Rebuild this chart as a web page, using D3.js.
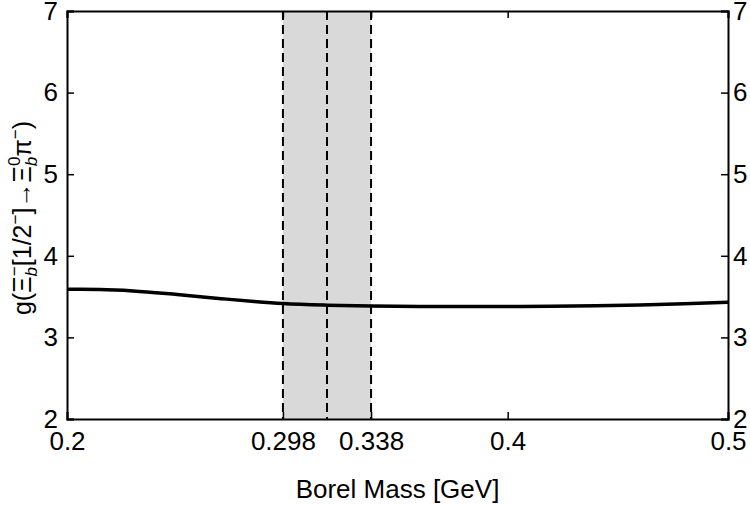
<!DOCTYPE html>
<html>
<head>
<meta charset="utf-8">
<script src="https://cdn.jsdelivr.net/npm/d3@7"></script>
<style>
  body { margin: 0; background: #fff; }
  text { font-family: "Liberation Sans", Arial, sans-serif; fill: #000; }
</style>
</head>
<body>
<div id="chart"></div>
<script>
// values
var borel = [0.20, 0.215, 0.23, 0.25, 0.27, 0.285, 0.298, 0.318, 0.338, 0.36, 0.38, 0.40, 0.42, 0.44, 0.46, 0.48, 0.50];
var coupling = [3.59, 3.587, 3.57, 3.525, 3.475, 3.44, 3.415, 3.395, 3.385, 3.38, 3.378, 3.378, 3.381, 3.388, 3.398, 3.412, 3.43];
var band = [0.298, 0.338];
var bandCenter = [0.318];
var xTicks = [0.2, 0.298, 0.338, 0.4, 0.5];
var xTickLabels = ["0.2", "0.298", "0.338", "0.4", "0.5"];
var yTicks = [2, 3, 4, 5, 6, 7];

var width = 750, height = 505;
var margin = {top: 11, right: 22, bottom: 86, left: 67};
var w = width - margin.left - margin.right,
    h = height - margin.top - margin.bottom;

var svg = d3.select("#chart").append("svg")
    .attr("width", width)
    .attr("height", height);

var g = svg.append("g")
    .attr("transform", "translate(" + margin.left + "," + margin.top + ")");

var x = d3.scaleLinear().domain([0.2, 0.5]).range([0, w]);
var y = d3.scaleLinear().domain([2, 7]).range([h, 0]);

// shaded Borel window
g.append("rect")
    .attr("x", x(band[0]))
    .attr("y", 0)
    .attr("width", x(band[1]) - x(band[0]))
    .attr("height", h)
    .attr("fill", "#d9d9d9");

// dashed lines at window edges and centre
g.selectAll(".dash")
    .data(band.concat(bandCenter))
    .enter().append("line")
    .attr("x1", function (d) { return x(d); })
    .attr("x2", function (d) { return x(d); })
    .attr("y1", 0)
    .attr("y2", h)
    .attr("stroke", "#000")
    .attr("stroke-width", 2)
    .attr("stroke-dasharray", "9,5");

// the curve
var line = d3.line()
    .x(function (d, i) { return x(borel[i]); })
    .y(function (d) { return y(d); })
    .curve(d3.curveMonotoneX);

g.append("path")
    .datum(coupling)
    .attr("d", line)
    .attr("fill", "none")
    .attr("stroke", "#000")
    .attr("stroke-width", 3.5);

// axes, ticks pointing inward
var tickLen = 7;
var xAxisB = d3.axisBottom(x).tickValues(xTicks).tickSize(-tickLen).tickPadding(13)
    .tickFormat(function (d, i) { return xTickLabels[i]; });
var xAxisT = d3.axisTop(x).tickValues(xTicks).tickSize(-tickLen).tickFormat("");
var yAxisL = d3.axisLeft(y).tickValues(yTicks).tickSize(-tickLen).tickPadding(9).tickFormat(d3.format("d"));
var yAxisR = d3.axisRight(y).tickValues(yTicks).tickSize(-tickLen).tickPadding(5).tickFormat(d3.format("d"));

function style(sel) {
  sel.select(".domain").attr("stroke", "#000").attr("stroke-width", 2);
  sel.selectAll(".tick line").attr("stroke", "#000").attr("stroke-width", 1.5);
  sel.selectAll(".tick text").attr("font-size", 26)
    .style("font-family", "'Liberation Sans', Arial, sans-serif");
}

g.append("g").attr("transform", "translate(0," + h + ")").call(xAxisB).call(style);
g.append("g").call(xAxisT).call(style);
g.append("g").call(yAxisL).call(style);
g.append("g").attr("transform", "translate(" + w + ",0)").call(yAxisR).call(style);

// x axis title
svg.append("text")
    .attr("x", margin.left + w / 2)
    .attr("y", 498)
    .attr("text-anchor", "middle")
    .attr("font-size", 26)
    .text("Borel Mass [GeV]");

// y axis title
var yl = svg.append("text")
    .attr("transform", "translate(31,218) rotate(-90)")
    .attr("text-anchor", "middle")
    .attr("font-size", 25);

yl.append("tspan").text("g(Ξ");
yl.append("tspan").attr("font-size", 17).attr("font-style", "italic").attr("dy", 6).text("b");
yl.append("tspan").attr("font-size", 17).attr("dx", -9).attr("dy", -17).text("−");
yl.append("tspan").attr("dy", 11).text("[1/2");
yl.append("tspan").attr("font-size", 17).attr("dy", -10).text("−");
yl.append("tspan").attr("dy", 10).text("]→Ξ");
yl.append("tspan").attr("font-size", 17).attr("font-style", "italic").attr("dy", 6).text("b");
yl.append("tspan").attr("font-size", 17).attr("dx", -9).attr("dy", -17).text("0");
yl.append("tspan").attr("dy", 11).text("π");
yl.append("tspan").attr("font-size", 17).attr("dy", -10).text("−");
yl.append("tspan").attr("dy", 10).text(")");
</script>
</body>
</html>
